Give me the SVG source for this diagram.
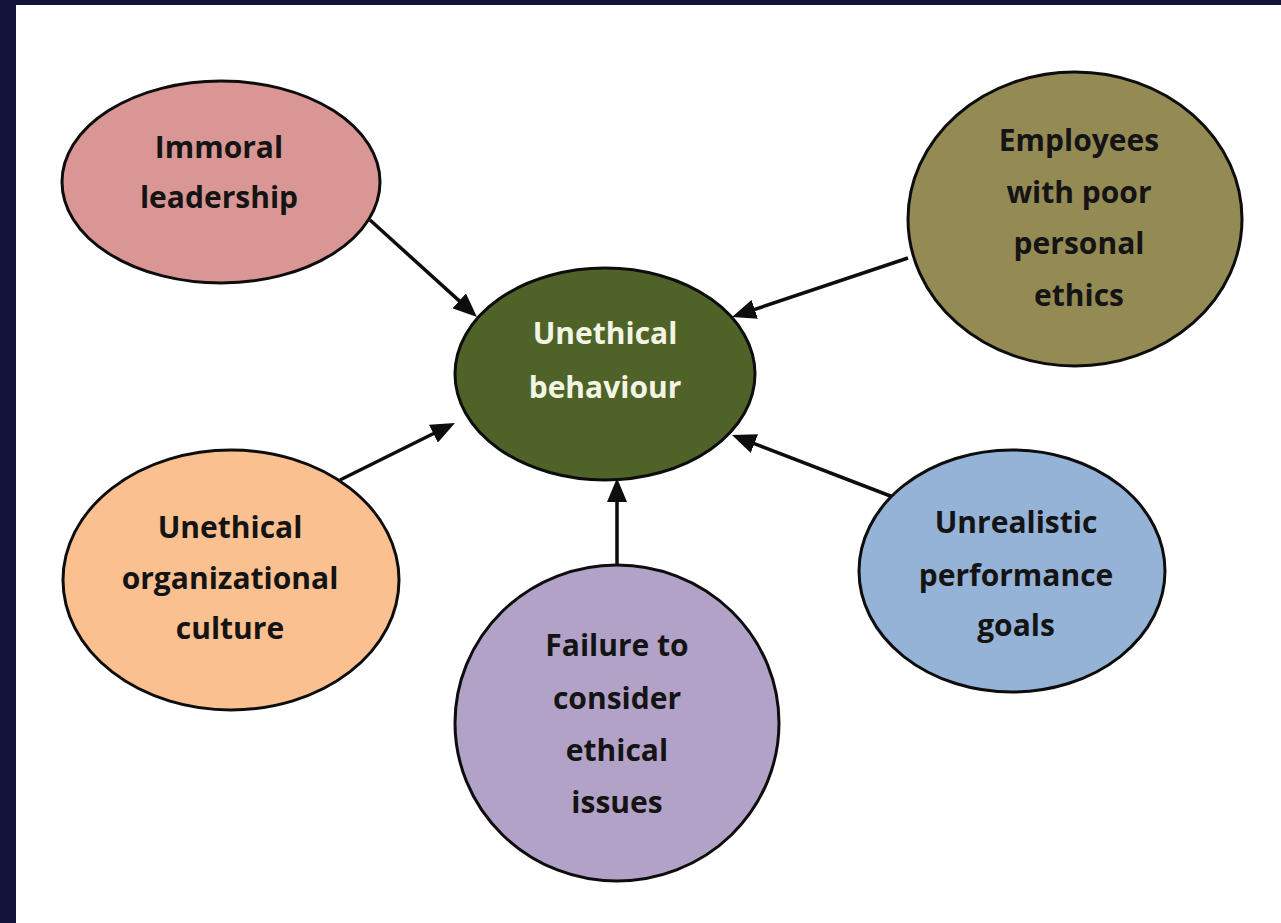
<svg xmlns="http://www.w3.org/2000/svg" width="1281" height="923" viewBox="0 0 1281 923">
<defs>
<style>
.node ellipse{stroke:#0d0d0d;stroke-width:3}
.node text{font-family:"Open Sans","Liberation Sans",sans-serif;font-weight:bold;font-size:30px;fill:#141414;text-anchor:middle}
#center text{fill:#f3f5e4}
.conn line{stroke:#0d0d0d;stroke-width:3.5}
</style>
<marker id="arr" markerUnits="userSpaceOnUse" markerWidth="24" markerHeight="20" refX="12" refY="10" orient="auto">
<path d="M0,0 L24,10 L0,20 z" fill="#0d0d0d"/>
</marker>
</defs>
<rect x="0" y="0" width="1281" height="923" fill="#ffffff"/>
<rect x="0" y="0" width="16" height="923" fill="#12123a"/>
<rect x="0" y="0" width="1281" height="5" fill="#12123a"/>

<g class="conn">
<line x1="370" y1="220" x2="468.1" y2="308.9" marker-end="url(#arr)"/>
<line x1="908" y1="258" x2="743.4" y2="313.2" marker-end="url(#arr)"/>
<line x1="340" y1="480" x2="444.2" y2="428.3" marker-end="url(#arr)"/>
<line x1="617" y1="565" x2="617" y2="490" marker-end="url(#arr)"/>
<line x1="893" y1="497" x2="743.2" y2="439.3" marker-end="url(#arr)"/>
</g>

<g id="immoral" class="node">
<ellipse cx="221" cy="182" rx="159" ry="101" fill="#d99694"/>
<text x="219" y="158">Immoral</text>
<text x="219" y="208">leadership</text>
</g>

<g id="employees" class="node">
<ellipse cx="1075" cy="219" rx="167" ry="147" fill="#948a54"/>
<text x="1079" y="151">Employees</text>
<text x="1079" y="203">with poor</text>
<text x="1079" y="254">personal</text>
<text x="1079" y="306">ethics</text>
</g>

<g id="center" class="node">
<ellipse cx="605" cy="374" rx="150" ry="106" fill="#4f6228"/>
<text x="605" y="344">Unethical</text>
<text x="605" y="398">behaviour</text>
</g>

<g id="culture" class="node">
<ellipse cx="231" cy="580" rx="168" ry="130" fill="#fac090"/>
<text x="230" y="538">Unethical</text>
<text x="230" y="589">organizational</text>
<text x="230" y="639">culture</text>
</g>

<g id="failure" class="node">
<ellipse cx="617" cy="723" rx="162" ry="158" fill="#b3a2c7"/>
<text x="617" y="656">Failure to</text>
<text x="617" y="709">consider</text>
<text x="617" y="761">ethical</text>
<text x="617" y="813">issues</text>
</g>

<g id="unrealistic" class="node">
<ellipse cx="1012" cy="571" rx="153" ry="121" fill="#95b3d7"/>
<text x="1016" y="533">Unrealistic</text>
<text x="1016" y="586">performance</text>
<text x="1016" y="636">goals</text>
</g>
</svg>
